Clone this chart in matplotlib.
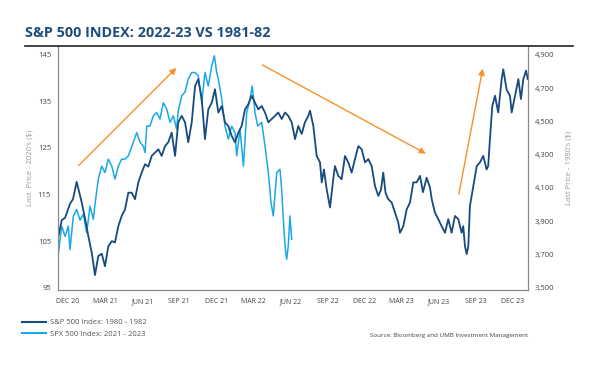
import matplotlib.pyplot as plt
import matplotlib.lines as mlines

# x positions are months counted from Dec 2020
months_1980s = [-0.78, -0.51, -0.24, 0.16, 0.40, 0.70, 1.11, 1.38, 1.64, 1.92, 2.18, 2.45, 2.73, 2.99, 3.26,
                3.54, 3.80, 4.07, 4.34, 4.61, 4.88, 5.15, 5.42, 5.69, 5.96, 6.23, 6.50, 6.77, 7.04, 7.31,
                7.58, 7.85, 8.11, 8.39, 8.66, 8.92, 9.20, 9.47, 9.73, 10.01, 10.28, 10.54, 10.82, 11.08, 11.35,
                11.63, 11.89, 12.16, 12.44, 12.70, 12.97, 13.24, 13.51, 13.78, 14.05, 14.32, 14.59, 14.86, 15.13, 15.40,
                15.67, 15.94, 16.21, 16.48, 16.75, 17.01, 17.29, 17.56, 17.82, 18.10, 18.37, 18.63, 18.91, 19.17, 19.44,
                19.58, 19.85, 20.12, 20.39, 20.53, 20.71, 20.93, 21.20, 21.46, 21.60, 21.87, 22.14, 22.41, 22.68, 22.95,
                23.22, 23.49, 23.76, 24.03, 24.30, 24.57, 24.84, 25.11, 25.32, 25.51, 25.69, 25.91, 26.19, 26.46, 26.72,
                26.86, 27.13, 27.40, 27.67, 27.94, 28.21, 28.48, 28.72, 29.02, 29.29, 29.43, 29.69, 29.96, 30.23, 30.50,
                30.77, 31.04, 31.31, 31.58, 31.85, 31.98, 32.12, 32.26, 32.39, 32.52, 32.79, 33.07, 33.33, 33.60, 33.87,
                34.00, 34.14, 34.33, 34.55, 34.81, 35.09, 35.22, 35.49, 35.76, 35.90, 36.17, 36.44, 36.65, 36.84, 37.06,
                37.20]
sp500_1980s = [3808, 3906, 3920, 4004, 4032, 4136, 4012, 3914, 3811, 3710, 3576, 3690, 3704, 3629, 3749,
               3780, 3772, 3870, 3931, 3970, 4071, 4071, 4032, 4133, 4192, 4242, 4228, 4292, 4312, 4332,
               4292, 4351, 4374, 4432, 4292, 4494, 4533, 4494, 4374, 4494, 4712, 4754, 4634, 4393, 4572,
               4612, 4693, 4553, 4592, 4494, 4472, 4413, 4374, 4432, 4472, 4572, 4603, 4654, 4612, 4572,
               4592, 4553, 4494, 4514, 4533, 4553, 4514, 4553, 4533, 4494, 4393, 4472, 4424, 4494, 4533,
               4564, 4472, 4292, 4253, 4133, 4211, 4091, 3982, 4152, 4231, 4172, 4152, 4292, 4253, 4192,
               4273, 4351, 4332, 4253, 4273, 4231, 4110, 4052, 4088, 4192, 4071, 4032, 4012, 3951, 3892,
               3830, 3870, 3970, 4012, 4133, 4133, 4172, 4074, 4161, 4102, 4032, 3951, 3912, 3870, 3830,
               3912, 3830, 3931, 3912, 3830, 3870, 3749, 3702, 3749, 3990, 4110, 4231, 4253, 4292, 4211,
               4231, 4393, 4592, 4654, 4553, 4754, 4813, 4690, 4654, 4553, 4654, 4754, 4634, 4754, 4805,
               4754]

months_2020s = [-0.78, -0.51, -0.24, 0.02, 0.16, 0.43, 0.70, 0.97, 1.24, 1.51, 1.78, 2.05, 2.18, 2.45, 2.73,
                2.99, 3.26, 3.54, 3.80, 4.07, 4.34, 4.61, 4.88, 5.28, 5.56, 5.83, 6.09, 6.23, 6.37, 6.63,
                6.90, 7.18, 7.44, 7.71, 7.99, 8.25, 8.52, 8.79, 8.92, 9.20, 9.47, 9.73, 10.01, 10.28, 10.54,
                10.82, 11.08, 11.35, 11.63, 11.84, 12.03, 12.16, 12.44, 12.70, 12.97, 13.24, 13.51, 13.65, 13.92, 14.19,
                14.46, 14.72, 14.91, 15.13, 15.35, 15.67, 15.94, 16.21, 16.42, 16.61, 16.89, 17.15, 17.29, 17.42, 17.56,
                17.69, 17.82, 17.96, 18.10]
spx_2020s = [102.5, 108.2, 106.0, 108.2, 103.2, 110.4, 111.8, 109.5, 110.8, 106.8, 112.5, 109.7, 112.9, 118.3, 121.1,
             119.7, 122.6, 121.1, 118.3, 121.1, 122.6, 122.6, 123.3, 126.2, 128.3, 126.2, 125.4, 124.0, 129.7, 129.7,
             131.9, 132.6, 131.2, 134.7, 133.3, 130.5, 131.9, 129.0, 133.0, 136.2, 137.0, 139.8, 141.2, 141.2, 140.5,
             134.7, 141.2, 138.3, 142.6, 144.8, 141.2, 139.8, 135.5, 129.7, 126.9, 129.7, 128.3, 123.3, 129.0, 121.1,
             132.6, 135.5, 138.3, 132.6, 129.7, 130.5, 125.4, 119.7, 113.3, 110.4, 119.7, 120.4, 116.0, 109.7, 103.9,
             101.1, 103.9, 110.4, 105.4]

tick_months = [0, 3, 6, 9, 12, 15, 18, 21, 24, 27, 30, 33, 36]
tick_labels = ['DEC 20', 'MAR 21', 'JUN 21', 'SEP 21', 'DEC 21', 'MAR 22', 'JUN 22',
               'SEP 22', 'DEC 22', 'MAR 23', 'JUN 23', 'SEP 23', 'DEC 23']
left_ticks = [95, 105, 115, 125, 135, 145]
right_ticks = [3500, 3700, 3900, 4100, 4300, 4500, 4700, 4900]

# trend arrows: (tail month, tail value, head month, head value) on left scale
arrows = [(0.70, 120.8, 8.92, 142.6), (15.53, 143.1, 29.15, 123.5), (31.58, 114.5, 33.60, 142.6)]

navy = '#174a7e'
light = '#1ba8e6'
orange = '#f7922a'
grey = '#888888'

plt.rcParams['font.family'] = ['Open Sans', 'DejaVu Sans']

fig = plt.figure(figsize=(6, 3.67), dpi=100)
ax = fig.add_axes([0.0967, 0.2098, 0.7833, 0.665])
ax2 = ax.twinx()

ax.plot(months_2020s, spx_2020s, color=light, lw=1.1)
ax2.plot(months_1980s, sp500_1980s, color=navy, lw=1.3)

for x0, y0, x1, y1 in arrows:
    ax2.annotate('', xy=(x1, 3500 + (y1 - 95) * 28), xytext=(x0, 3500 + (y0 - 95) * 28),
                 arrowprops=dict(arrowstyle='-|>', color=orange, lw=1.0, mutation_scale=9))

ax.set_xlim(-0.81, 37.22)
ax.set_ylim(94.5, 146.9)
ax2.set_ylim(3500 + (94.5 - 95) * 28, 3500 + (146.9 - 95) * 28)

ax.set_xticks(tick_months)
ax.set_xticklabels(tick_labels)
ax.set_yticks(left_ticks)
ax2.set_yticks(right_ticks)
ax2.set_yticklabels([f'{v:,}' for v in right_ticks])

for a in (ax, ax2):
    a.tick_params(length=0, labelsize=5.5, colors='#444444')
    a.spines['top'].set_visible(False)
    for s in ('left', 'right', 'bottom'):
        a.spines[s].set_color(grey)
        a.spines[s].set_linewidth(0.8)
ax.tick_params(axis='x', pad=6, labelsize=5)
ax.tick_params(axis='y', pad=5)
ax2.tick_params(axis='y', pad=5)

ax.set_ylabel("Last  Price - 2020's ($)", fontsize=5.5, color='#999999', labelpad=3)
ax2.set_ylabel("Last Price - 1980's ($)", fontsize=5.5, color='#999999', labelpad=8)

fig.text(25 / 600, 1 - 33 / 367, 'S&P 500 INDEX: 2022-23 VS 1981-82', fontsize=10.4,
         fontweight='bold', color='#1d4e7e', va='center', ha='left')
fig.add_artist(mlines.Line2D([25 / 600, 573 / 600], [1 - 46 / 367, 1 - 46 / 367],
                             color='#222222', lw=1.2))

handles = [mlines.Line2D([], [], color=navy, lw=1.5), mlines.Line2D([], [], color=light, lw=1.5)]
fig.legend(handles, ['S&P 500 Index: 1980 - 1982', 'SPX 500 Index: 2021 - 2023'],
           loc='upper left', bbox_to_anchor=(15 / 600, 1 - 312 / 367), frameon=False,
           fontsize=5.5, labelcolor='#555555', handlelength=3.2, handletextpad=0.5, labelspacing=0.6)

fig.text(528 / 600, 1 - 336 / 367, 'Source: Bloomberg and UMB Investment Management',
         fontsize=4.5, color='#444444', ha='right', va='center')

fig.savefig('out.png', dpi=100)
